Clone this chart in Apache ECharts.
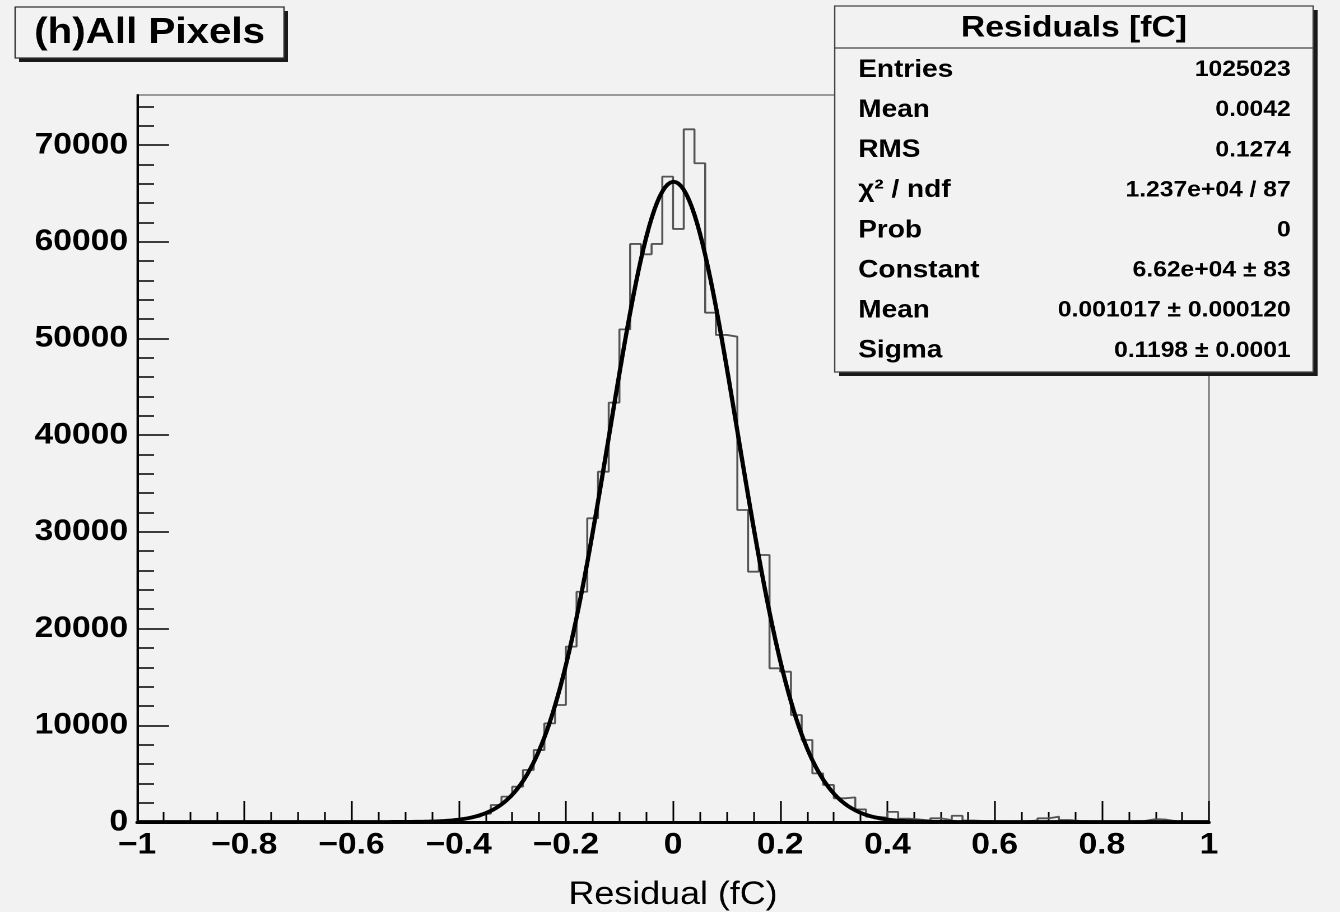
<!DOCTYPE html>
<html>
<head>
<meta charset="utf-8">
<script src="https://cdn.jsdelivr.net/npm/echarts@6/dist/echarts.min.js"></script>
<style>
  html, body { margin: 0; padding: 0; background: #f2f2f2; overflow: hidden; }
  /* ROOT output is a bit wider than tall-font metrics, so stretch the whole canvas */
  #main { width: 1196px; height: 912px; transform: scaleX(1.1204); transform-origin: 0 0; }
</style>
</head>
<body>
<div id="main"></div>
<script>
// histogram: 100 bins of 0.02 from -1 to 1
const BIN_START = -1;
const BIN_WIDTH = 0.02;
const COUNTS = [
  0, 0, 0, 0, 0, 0, 0, 0, 0, 0,
  0, 0, 0, 0, 0, 0, 0, 0, 0, 0,
  10, 15, 20, 30, 40, 60, 90, 130, 180, 260,
  380, 560, 850, 1760, 2620, 3650, 5380, 7440, 10200, 12100,
  18130, 23810, 31400, 36220, 43360, 50940, 59770, 58700, 59770, 66730,
  61320, 71620, 68110, 52660, 50360, 50180, 32260, 25880, 27610, 15890,
  15540, 11060, 8480, 5030, 3830, 2450, 2550, 1300, 550, 450,
  1050, 350, 250, 150, 380, 200, 650, 150, 100, 80,
  60, 50, 80, 150, 380, 550, 200, 100, 60, 40,
  30, 40, 60, 100, 300, 250, 60, 30, 20, 10
];

// gaussian fit parameters from the stats box
const FIT_CONSTANT = 66200;
const FIT_MEAN = 0.001017;
const FIT_SIGMA = 0.1198;

const Y_TICKS = [0, 10000, 20000, 30000, 40000, 50000, 60000, 70000];
const Y_MINOR = [];
for (let v = 0; v <= 74000; v += 2000) Y_MINOR.push(v);
const Y_MAX = 75170;

const STAT_TITLE = 'Residuals [fC]';
const STAT_LABELS = ['Entries', 'Mean', 'RMS', 'χ² / ndf', 'Prob', 'Constant', 'Mean', 'Sigma'];
const STAT_VALUES = ['1025023', '0.0042', '0.1274', '1.237e+04 / 87', '0', '6.62e+04 ± 83', '0.001017 ± 0.000120', '0.1198 ± 0.0001'];

const FONT = '"Liberation Sans", Arial, Helvetica, sans-serif';

// step outline points at the bin edges
let histData = [];
for (let i = 0; i < COUNTS.length; i++) {
  histData.push([+(BIN_START + i * BIN_WIDTH).toFixed(2), COUNTS[i]]);
}
histData.push([+(BIN_START + COUNTS.length * BIN_WIDTH).toFixed(2), COUNTS[COUNTS.length - 1]]);

let fitData = [];
for (let i = 0; i <= 400; i++) {
  let x = -1 + i * 0.005;
  fitData.push([x, FIT_CONSTANT * Math.exp(-0.5 * Math.pow((x - FIT_MEAN) / FIT_SIGMA, 2))]);
}

function fmtX(v) {
  let r = Math.round(v * 10) / 10;
  if (r === 0) return '0';
  return r < 0 ? '\u2212' + String(-r) : String(r);
}

// stats pave
const SB = {x: 745, y: 6, w: 427, h: 366};
let statEls = [
  {type: 'rect', shape: {x: SB.x + 4, y: SB.y + 4, width: SB.w, height: SB.h}, style: {fill: '#1a1a1a'}},
  {type: 'rect', shape: {x: SB.x, y: SB.y, width: SB.w, height: SB.h}, style: {fill: '#f2f2f2', stroke: '#444', lineWidth: 1.2}},
  {type: 'line', shape: {x1: SB.x, y1: 48, x2: SB.x + SB.w, y2: 48}, style: {stroke: '#444', lineWidth: 1.2}},
  {type: 'text', x: SB.x + SB.w / 2, y: 28, style: {text: STAT_TITLE, font: 'bold 30px ' + FONT, fill: '#000', align: 'center', verticalAlign: 'middle', textAlign: 'center', textVerticalAlign: 'middle'}}
];
for (let i = 0; i < STAT_LABELS.length; i++) {
  let yy = 70 + i * 40.1;
  statEls.push({type: 'text', x: 766, y: yy, style: {text: STAT_LABELS[i], font: 'bold 25px ' + FONT, fill: '#000', align: 'left', verticalAlign: 'middle', textAlign: 'left', textVerticalAlign: 'middle'}});
  statEls.push({type: 'text', x: 1152, y: yy, style: {text: STAT_VALUES[i], font: 'bold 22px ' + FONT, fill: '#000', align: 'right', verticalAlign: 'middle', textAlign: 'right', textVerticalAlign: 'middle'}});
}

let titleEls = [
  {type: 'rect', shape: {x: 17, y: 11, width: 240, height: 51}, style: {fill: '#1a1a1a'}},
  {type: 'rect', shape: {x: 13.5, y: 7, width: 240, height: 51}, style: {fill: '#f2f2f2', stroke: '#333', lineWidth: 1.2}},
  {type: 'text', x: 133.5, y: 33, style: {text: '(h)All Pixels', font: 'bold 36px ' + FONT, fill: '#000', align: 'center', verticalAlign: 'middle', textAlign: 'center', textVerticalAlign: 'middle'}}
];

const myChart = echarts.init(document.getElementById('main'), null, {devicePixelRatio: 2});
const option = {
  animation: false,
  backgroundColor: '#f2f2f2',
  grid: {
    left: 122.3, right: 116.9, top: 95, bottom: 90,
    outerBoundsMode: 'none', containLabel: false,
    show: true, borderColor: '#666', borderWidth: 1.2, backgroundColor: 'transparent'
  },
  xAxis: {
    type: 'value', min: -1, max: 1, interval: 0.2,
    name: 'Residual (fC)', nameLocation: 'middle', nameGap: 57,
    nameTextStyle: {fontSize: 32, fontFamily: FONT, color: '#000'},
    axisLine: {show: true, onZero: false, lineStyle: {color: '#000', width: 3}},
    axisTick: {show: true, inside: true, length: 21, lineStyle: {color: '#000', width: 1.5}},
    minorTick: {show: true, splitNumber: 4, length: 10, lineStyle: {color: '#000', width: 1.5}},
    axisLabel: {formatter: fmtX, fontSize: 30, fontWeight: 'bold', fontFamily: FONT, color: '#000', margin: 8},
    splitLine: {show: false}
  },
  yAxis: [{
    type: 'value', min: 0, max: Y_MAX, interval: 10000,
    axisLine: {show: true, onZero: false, lineStyle: {color: '#000', width: 2}},
    axisTick: {show: true, inside: true, length: 28.6, customValues: Y_TICKS, lineStyle: {color: '#000', width: 1.5}},
    axisLabel: {customValues: Y_TICKS, formatter: v => String(v), fontSize: 30, fontWeight: 'bold', fontFamily: FONT, color: '#000', margin: 8, padding: [14, 0, 0, 0]},
    splitLine: {show: false}
  }, {
    type: 'value', min: 0, max: Y_MAX, position: 'left', offset: 0,
    axisLine: {show: false, onZero: false},
    axisTick: {show: true, inside: true, length: 15.2, customValues: Y_MINOR, lineStyle: {color: '#000', width: 1.5}},
    axisLabel: {show: false},
    splitLine: {show: false}
  }],
  series: [{
    name: 'hist', type: 'line', step: 'end', data: histData,
    showSymbol: false, silent: true,
    lineStyle: {color: '#555', width: 1.8}, z: 2
  }, {
    name: 'fit', type: 'line', data: fitData,
    showSymbol: false, silent: true,
    lineStyle: {color: '#000', width: 3.8}, z: 3
  }],
  graphic: titleEls.concat(statEls)
};
myChart.setOption(option);
</script>
</body>
</html>
